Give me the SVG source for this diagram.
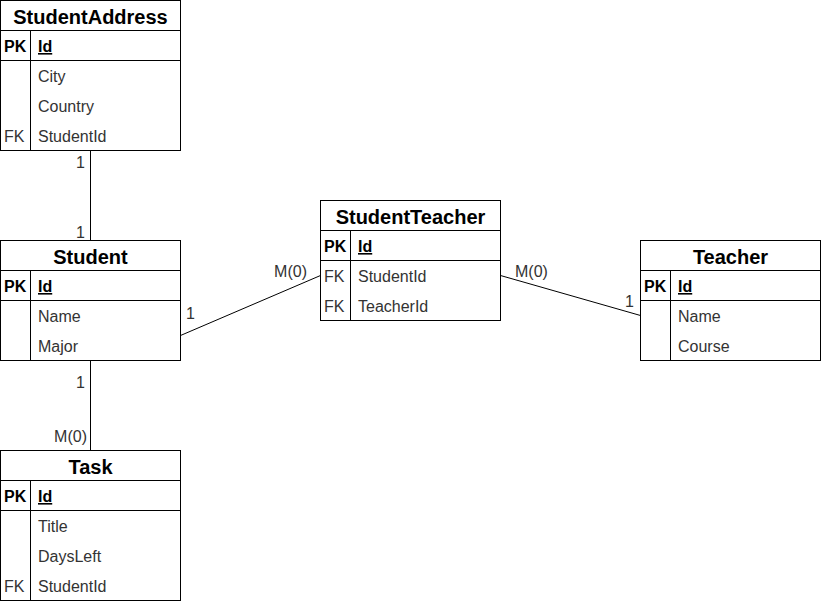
<svg xmlns="http://www.w3.org/2000/svg" width="821" height="601" viewBox="0 0 821 601">
<style>
.box{fill:#fff;stroke:#000;stroke-width:1}
.ln{stroke:#000;stroke-width:1;fill:none}
.t{font-family:"Liberation Sans",Arial,sans-serif;font-size:20px;font-weight:bold;fill:#000;text-anchor:middle}
.k{font-family:"Liberation Sans",Arial,sans-serif;font-size:16px;font-weight:bold;fill:#000}
.f{font-family:"Liberation Sans",Arial,sans-serif;font-size:16px;fill:#333}
.id{font-family:"Liberation Sans",Arial,sans-serif;font-size:16px;font-weight:bold;fill:#000;text-decoration:underline}
.lb{font-family:"Liberation Sans",Arial,sans-serif;font-size:16px;fill:#333}
</style>
<rect width="821" height="601" fill="#fff"/>
<g id="connectors">
<line class="ln" x1="90.5" y1="150.5" x2="90.5" y2="240.5"/>
<line class="ln" x1="90.5" y1="360.5" x2="90.5" y2="450.5"/>
<line class="ln" x1="180.5" y1="335.5" x2="320.5" y2="275.5"/>
<line class="ln" x1="500.5" y1="275.5" x2="640.5" y2="315.5"/>
<text class="lb" x="85" y="168" text-anchor="end">1</text>
<text class="lb" x="85" y="238" text-anchor="end">1</text>
<text class="lb" x="85" y="388" text-anchor="end">1</text>
<text class="lb" x="87" y="442" text-anchor="end">M(0)</text>
<text class="lb" x="186" y="319">1</text>
<text class="lb" x="307" y="277" text-anchor="end">M(0)</text>
<text class="lb" x="515" y="277">M(0)</text>
<text class="lb" x="634" y="307" text-anchor="end">1</text>
</g>
<g id="StudentAddress">
<rect class="box" x="0.5" y="0.5" width="180" height="150"/>
<line class="ln" x1="0.5" y1="30.5" x2="180.5" y2="30.5"/>
<line class="ln" x1="0.5" y1="60.5" x2="180.5" y2="60.5"/>
<line class="ln" x1="30.5" y1="30.5" x2="30.5" y2="150.5"/>
<text class="t" x="90.5" y="24">StudentAddress</text>
<text class="k" x="4" y="52">PK</text>
<text class="id" x="38" y="52">Id</text>
<text class="f" x="38" y="82">City</text>
<text class="f" x="38" y="112">Country</text>
<text class="f" x="4" y="142">FK</text>
<text class="f" x="38" y="142">StudentId</text>
</g>
<g id="Student">
<rect class="box" x="0.5" y="240.5" width="180" height="120"/>
<line class="ln" x1="0.5" y1="270.5" x2="180.5" y2="270.5"/>
<line class="ln" x1="0.5" y1="300.5" x2="180.5" y2="300.5"/>
<line class="ln" x1="30.5" y1="270.5" x2="30.5" y2="360.5"/>
<text class="t" x="90.5" y="264">Student</text>
<text class="k" x="4" y="292">PK</text>
<text class="id" x="38" y="292">Id</text>
<text class="f" x="38" y="322">Name</text>
<text class="f" x="38" y="352">Major</text>
</g>
<g id="Task">
<rect class="box" x="0.5" y="450.5" width="180" height="150"/>
<line class="ln" x1="0.5" y1="480.5" x2="180.5" y2="480.5"/>
<line class="ln" x1="0.5" y1="510.5" x2="180.5" y2="510.5"/>
<line class="ln" x1="30.5" y1="480.5" x2="30.5" y2="600.5"/>
<text class="t" x="90.5" y="474">Task</text>
<text class="k" x="4" y="502">PK</text>
<text class="id" x="38" y="502">Id</text>
<text class="f" x="38" y="532">Title</text>
<text class="f" x="38" y="562">DaysLeft</text>
<text class="f" x="4" y="592">FK</text>
<text class="f" x="38" y="592">StudentId</text>
</g>
<g id="StudentTeacher">
<rect class="box" x="320.5" y="200.5" width="180" height="120"/>
<line class="ln" x1="320.5" y1="230.5" x2="500.5" y2="230.5"/>
<line class="ln" x1="320.5" y1="260.5" x2="500.5" y2="260.5"/>
<line class="ln" x1="350.5" y1="230.5" x2="350.5" y2="320.5"/>
<text class="t" x="410.5" y="224">StudentTeacher</text>
<text class="k" x="324" y="252">PK</text>
<text class="id" x="358" y="252">Id</text>
<text class="f" x="324" y="282">FK</text>
<text class="f" x="358" y="282">StudentId</text>
<text class="f" x="324" y="312">FK</text>
<text class="f" x="358" y="312">TeacherId</text>
</g>
<g id="Teacher">
<rect class="box" x="640.5" y="240.5" width="180" height="120"/>
<line class="ln" x1="640.5" y1="270.5" x2="820.5" y2="270.5"/>
<line class="ln" x1="640.5" y1="300.5" x2="820.5" y2="300.5"/>
<line class="ln" x1="670.5" y1="270.5" x2="670.5" y2="360.5"/>
<text class="t" x="730.5" y="264">Teacher</text>
<text class="k" x="644" y="292">PK</text>
<text class="id" x="678" y="292">Id</text>
<text class="f" x="678" y="322">Name</text>
<text class="f" x="678" y="352">Course</text>
</g>
</svg>
